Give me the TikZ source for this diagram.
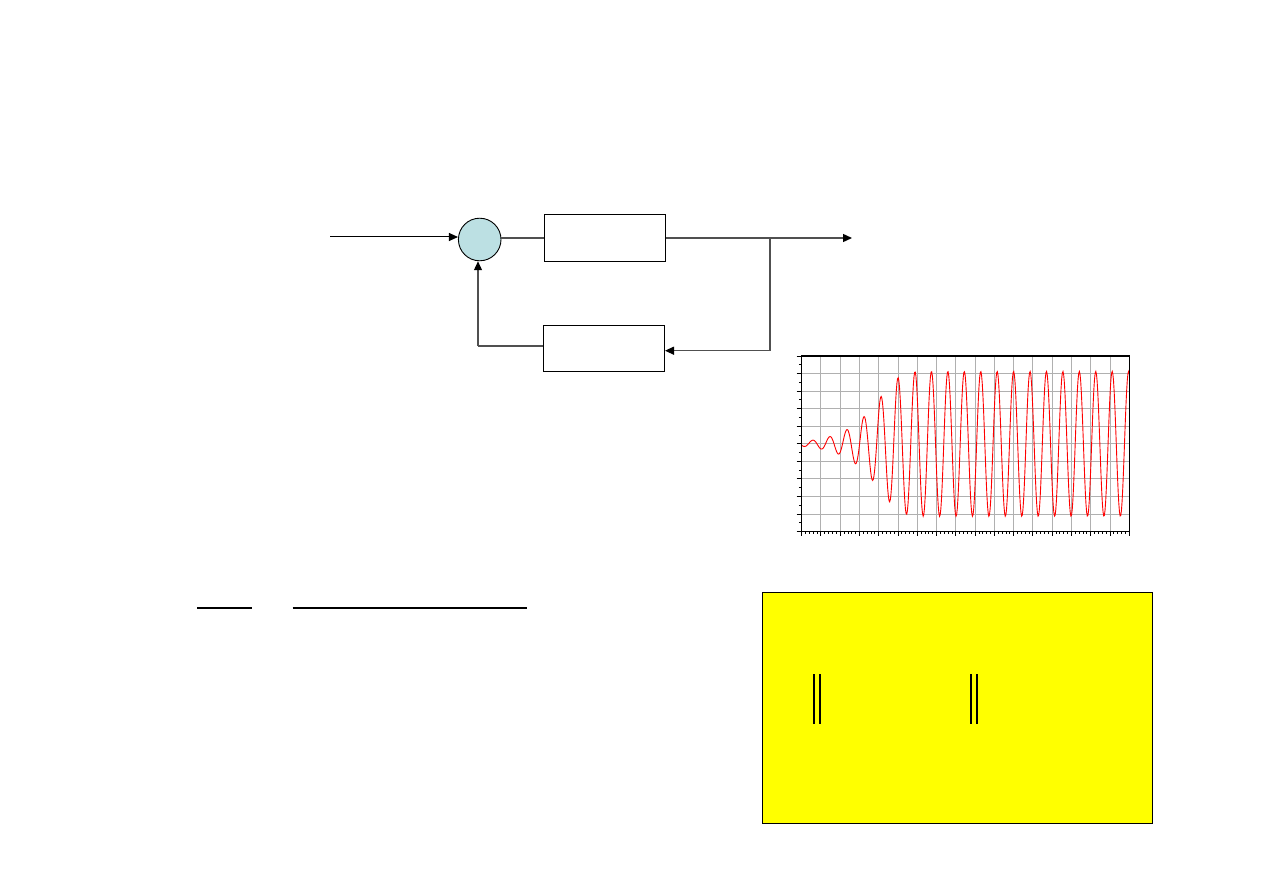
\documentclass[tikz,border=0pt]{standalone}
\usetikzlibrary{arrows.meta,calc}
\definecolor{sumfill}{RGB}{188,224,227}
\definecolor{conngray}{RGB}{80,80,80}
\definecolor{gridgray}{RGB}{176,176,176}
\definecolor{boxyellow}{RGB}{255,255,0}
\tikzset{
  blockbox/.style={draw=black,line width=1pt,fill=white,minimum width=121pt,minimum height=46.5pt,inner sep=0pt},
  sumnode/.style={circle,draw=black,line width=0.9pt,fill=sumfill,minimum size=42.6pt,inner sep=0pt},
  conn/.style={draw=conngray,line width=1.3pt},
  tip/.style={-{Triangle[length=9pt,width=8pt,color=black]}},
  gridline/.style={draw=gridgray,line width=1pt},
  frameline/.style={draw=black,line width=1.2pt},
  redcurve/.style={draw=red,line width=0.9pt},
  barline/.style={draw=black,line width=2pt},
  thinbar/.style={draw=black,line width=1.7pt}
}
\begin{document}
\begin{tikzpicture}[x=1pt,y=-1pt,
  declare function={
    rawamp(\t)=min(0.21*exp(0.04*(min(\t,140)-11))/4.13,3.5);
    envamp(\t)=4.13*tanh(rawamp(\t));
    phs(\t)=min(\t-113.3,0)/17.05+max(\t-113.3,0)/16.43+0.25;
  }]
\useasboundingbox (0,0) rectangle (1263,893);
% block diagram
\node[sumnode] (sum) at (479.7,239.5) {};
\node[blockbox] (plant) at (605,238) {};
\node[blockbox] (fb) at (604,348.5) {};
\coordinate (in) at (330,237);
\coordinate (out) at (852,238);
\coordinate (branch) at (770,238);
\coordinate (corner) at (770,350.7);
\coordinate (fbin) at (665,350.7);
\coordinate (fbout) at (478,346);
\draw[draw=black,line width=1pt,tip] (in) -- (in -| sum.west);
\draw[conn] (sum.east |- plant.west) -- (plant.west);
\draw[conn,tip] (plant.east) -- (out);
\draw[conn,tip] (branch) -- (corner) -- (fbin);
\draw[conn] (fb.west |- fbout) -- (fbout);
\draw[conn,tip] (fbout) -- (fbout |- sum.south);
% chart
\coordinate (c0) at (801.7,356);
\coordinate (c1) at (1129.3,531.7);
\foreach \i in {1,...,16}
  \draw[gridline] ({801.7+\i*19.27},356) -- ({801.7+\i*19.27},531.7);
\foreach \j in {1,...,9}
  \draw[gridline] (801.7,{356+\j*17.57}) -- (1129.3,{356+\j*17.57});
\foreach \j in {0,...,10}
  \draw[black,line width=1pt] (796.7,{356+\j*17.57}) -- (801.7,{356+\j*17.57});
\foreach \j in {0,...,9}
  \draw[black,line width=1pt] (798.8,{356+(\j+0.5)*17.57}) -- (801.7,{356+(\j+0.5)*17.57});
\foreach \i in {0,...,17}
  \draw[black,line width=1pt] ({801.7+\i*19.27},531.7) -- ({801.7+\i*19.27},536);
\foreach \i in {0,...,16}
  \foreach \k in {1,...,4}
    \draw[black,line width=0.9pt] ({801.7+(\i+\k/5)*19.27},531.7) -- ({801.7+(\i+\k/5)*19.27},534.2);
\draw[redcurve] plot[domain=0:327.6,samples=500] ({801.7+\x},
  {443.85-17.57*envamp(\x)*sin(360*phs(\x))});
\draw[frameline] (c0) rectangle (c1);
% fraction bars
\coordinate (f1a) at (197.3,607.7);
\coordinate (f1b) at (251.7,607.7);
\coordinate (f2a) at (292.7,607.7);
\coordinate (f2b) at (526.7,607.7);
\draw[barline] (f1a) -- (f1b);
\draw[barline] (f2a) -- (f2b);
% yellow box
\draw[fill=boxyellow,draw=black,line width=1.2pt] (762.7,592.7) rectangle (1152.7,823.3);
\draw[thinbar] (814,674.3) -- (814,724.3);
\draw[thinbar] (820,674.3) -- (820,724.3);
\draw[thinbar] (970.7,674.3) -- (970.7,724.3);
\draw[draw=black,line width=2.3pt] (976.7,674.3) -- (976.7,724.3);
\end{tikzpicture}
\end{document}
